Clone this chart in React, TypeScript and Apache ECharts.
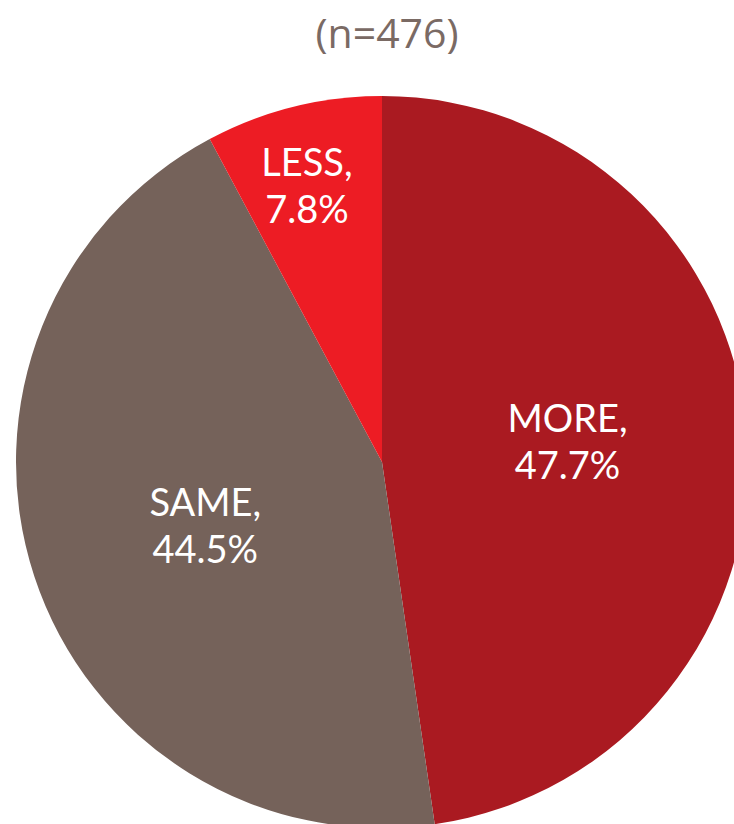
import React, { useEffect, useRef } from "react";
import * as echarts from "echarts";

const categories = ["MORE", "SAME", "LESS"];
const values = [47.7, 44.5, 7.8];
const colors = ["#AA1A21", "#75625A", "#ED1C24"];
const sampleSize = 476;

export default function App() {
  const ref = useRef<HTMLDivElement>(null);
  useEffect(() => {
    if (!ref.current) return;
    const chart = echarts.init(ref.current, null, { renderer: "svg" });
    chart.setOption({
      animation: false,
      backgroundColor: "#ffffff",
      title: {
        text: `(n=${sampleSize})`,
        left: 382,
        top: 6,
        textAlign: "center",
        textStyle: {
          fontFamily: "Open Sans",
          fontWeight: "normal",
          fontSize: 41,
          color: "#7A6A64",
        },
      },
      series: [
        {
          type: "pie",
          center: [382, 462],
          radius: 366,
          startAngle: 90,
          clockwise: true,
          avoidLabelOverlap: false,
          label: {
            show: true,
            position: "inside",
            formatter: (p: any) => `${p.name},\n${p.value.toFixed(1)}%`,
            color: "#ffffff",
            fontFamily: "Lato",
            fontSize: 38,
            lineHeight: 47,
            align: "center",
          },
          labelLine: { show: false },
          labelLayout: (p: any) => {
            if (p.dataIndex === 2) return { dx: -30, dy: -97 };
            if (p.dataIndex === 0) return { dy: -8 };
            return { dy: 4 };
          },
          emphasis: { disabled: true },
          data: categories.map((c, i) => ({
            name: c,
            value: values[i],
            itemStyle: { color: colors[i] },
          })),
        },
      ],
    });
    return () => chart.dispose();
  }, []);
  return (
    <div
      ref={ref}
      style={{ position: "absolute", left: 0, top: 0, width: 734, height: 824 }}
    />
  );
}
